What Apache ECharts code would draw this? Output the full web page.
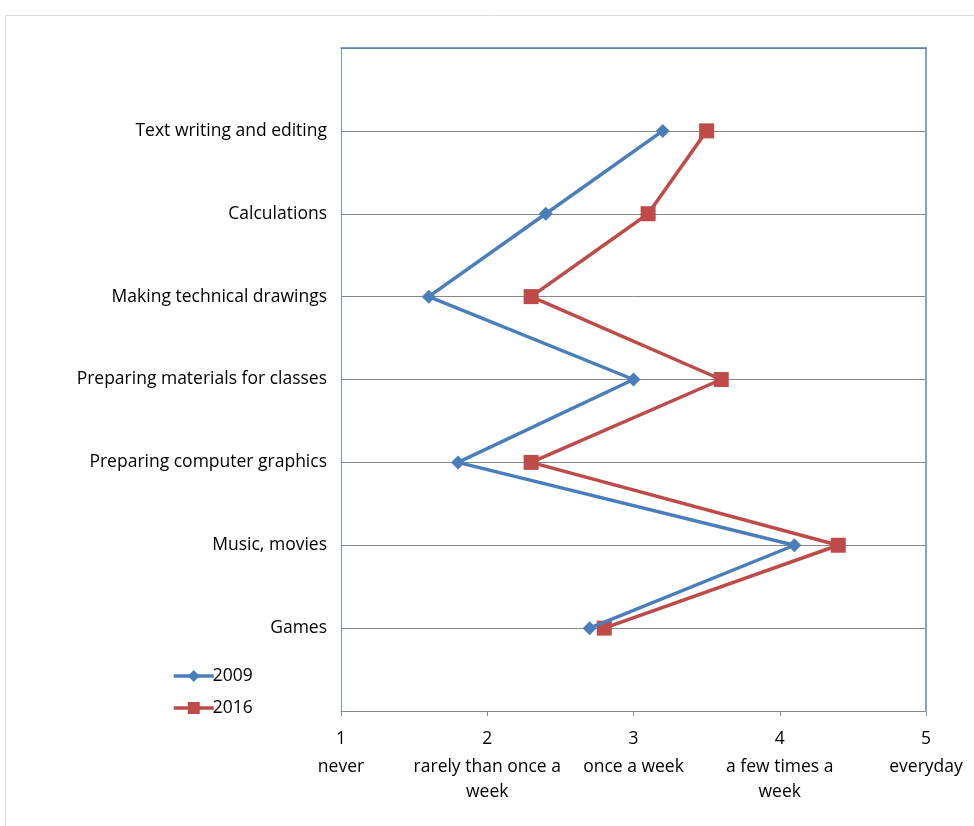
<!DOCTYPE html>
<html>
<head>
<meta charset="utf-8">
<script src="https://cdn.jsdelivr.net/npm/echarts@6/dist/echarts.min.js"></script>
<style>html,body{margin:0;padding:0;background:#fff;}#c{width:974px;height:826px;}</style>
</head>
<body>
<div id="c"></div>
<script>
// Activities from bottom (1) to top (7)
var categories = ['Games', 'Music, movies', 'Preparing computer graphics', 'Preparing materials for classes', 'Making technical drawings', 'Calculations', 'Text writing and editing'];
var values2009 = [2.7, 4.1, 1.8, 3.0, 1.6, 2.4, 3.2];
var values2016 = [2.8, 4.4, 2.3, 3.6, 2.3, 3.1, 3.5];
var xTickNumbers = ['1', '2', '3', '4', '5'];
var xTickTexts = [['never'], ['rarely than once a', 'week'], ['once a week'], ['a few times a', 'week'], ['everyday']];

var FONT = 'Open Sans';
var FS = 17.5;
function pts(vals) { return vals.map(function (v, i) { return [v, i + 1]; }); }

var chart = echarts.init(document.getElementById('c'));
chart.setOption({
  backgroundColor: '#fff',
  animation: false,
  textStyle: { fontFamily: FONT },
  graphic: [{
    type: 'rect', silent: true, z: -10,
    shape: { x: 5.5, y: 15.5, width: 1000, height: 900 },
    style: { fill: 'none', stroke: '#dcdcdc', lineWidth: 1 }
  }],
  grid: { left: 341, right: 48, top: 48, bottom: 115 },
  legend: {
    orient: 'vertical', left: 167, top: 662,
    itemWidth: 40, itemHeight: 15, itemGap: 14,
    lineStyle: { width: 3.5 },
    textStyle: { fontSize: FS, color: '#000', fontFamily: FONT, padding: [0, 0, 0, -6] },
    data: ['2009', '2016']
  },
  xAxis: [{
    type: 'value', min: 1, max: 5, interval: 1, position: 'bottom', z: 2,
    axisLine: { show: true, onZero: false, lineStyle: { color: '#868686', width: 1 } },
    axisTick: { show: true, length: 5, lineStyle: { color: '#868686' } },
    splitLine: { show: false },
    axisLabel: {
      margin: 12, color: '#000', verticalAlign: 'top',
      formatter: function (v) {
        var i = Math.round(v) - 1;
        var s = '{n|' + xTickNumbers[i] + '}';
        xTickTexts[i].forEach(function (t) { s += '\n{t|' + t + '}'; });
        return s;
      },
      rich: {
        n: { fontSize: FS, lineHeight: 32, color: '#000', fontFamily: FONT },
        t: { fontSize: FS, lineHeight: 25, color: '#000', fontFamily: FONT }
      }
    }
  }, {
    type: 'value', min: 1, max: 5, position: 'top', z: 8,
    axisLine: { show: true, onZero: false, lineStyle: { color: '#4f81bd', width: 1.5 } },
    axisTick: { show: false }, axisLabel: { show: false }, splitLine: { show: false }
  }],
  yAxis: [{
    type: 'value', min: 0, max: 8, interval: 1, z: 1,
    axisLine: { show: true, onZero: false, lineStyle: { color: '#6f97cf', width: 1 } },
    axisTick: { show: false },
    splitLine: { show: true, lineStyle: { color: '#868686', width: 1 } },
    axisLabel: {
      margin: 14, color: '#000', fontSize: FS, fontFamily: FONT,
      formatter: function (v) { return categories[v - 1] || ''; }
    }
  }, {
    type: 'value', min: 0, max: 8, position: 'right', z: 8,
    axisLine: { show: true, onZero: false, lineStyle: { color: '#7fa3d3', width: 2 } },
    axisTick: { show: false }, axisLabel: { show: false }, splitLine: { show: false }
  }],
  series: [{
    name: '2009', type: 'line', data: pts(values2009),
    symbol: 'diamond', symbolSize: 14,
    itemStyle: { color: '#4a7ebb' },
    lineStyle: { color: '#4a7ebb', width: 3.5 }, z: 4
  }, {
    name: '2016', type: 'line', data: pts(values2016),
    symbol: 'rect', symbolSize: 15,
    itemStyle: { color: '#be4b48' },
    lineStyle: { color: '#be4b48', width: 3.5 }, z: 3
  }]
});
</script>
</body>
</html>
